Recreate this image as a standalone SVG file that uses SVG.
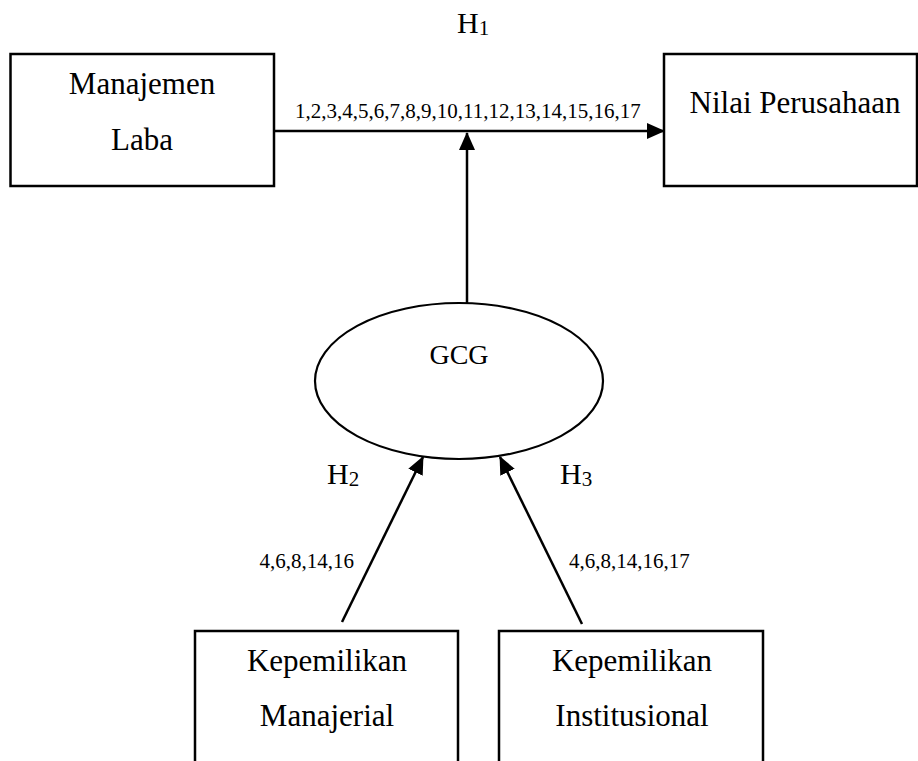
<svg xmlns="http://www.w3.org/2000/svg" width="918" height="761" viewBox="0 0 918 761">
<style>
.box{fill:#fff;stroke:#000;stroke-width:2.5}
.ell{fill:#fff;stroke:#000;stroke-width:2.2}
.con{stroke:#000;stroke-width:2.5;fill:none}
.t{font-family:"Liberation Serif","Times New Roman",serif;fill:#000}
.n{font-size:31px;text-anchor:middle}
.h{font-size:30px}
.s{font-size:21px}
</style>
<defs>
<marker id="arr" markerUnits="userSpaceOnUse" markerWidth="18" markerHeight="16" refX="17" refY="8" orient="auto">
<path d="M0,0 L18,8 L0,16 Z" fill="#000"/>
</marker>
</defs>
<rect width="918" height="761" fill="#fff"/>
<g id="connectors">
<line class="con" x1="274" y1="131" x2="664" y2="131" marker-end="url(#arr)"/>
<line class="con" x1="467" y1="303" x2="467" y2="133" marker-end="url(#arr)"/>
<line class="con" x1="342" y1="622" x2="423" y2="457" marker-end="url(#arr)"/>
<line class="con" x1="582" y1="624" x2="500" y2="457" marker-end="url(#arr)"/>
<text class="t s" x="295" y="118">1,2,3,4,5,6,7,8,9,10,11,12,13,14,15,16,17</text>
<text class="t h" x="457" y="33">H<tspan class="s" dy="2">1</tspan></text>
<text class="t h" x="327" y="484">H<tspan class="s" dy="2">2</tspan></text>
<text class="t h" x="560" y="484">H<tspan class="s" dy="2">3</tspan></text>
<text class="t s" x="354" y="568" text-anchor="end">4,6,8,14,16</text>
<text class="t s" x="569" y="568">4,6,8,14,16,17</text>
</g>
<g id="manajemen-laba">
<rect class="box" x="10.5" y="54" width="263.5" height="132"/>
<text class="t n" x="142" y="94">Manajemen</text>
<text class="t n" x="142" y="150">Laba</text>
</g>
<g id="nilai-perusahaan">
<rect class="box" x="664" y="54" width="253" height="132"/>
<text class="t n" x="795" y="113">Nilai Perusahaan</text>
</g>
<g id="gcg">
<ellipse class="ell" cx="459" cy="381" rx="144" ry="78"/>
<text class="t" x="459" y="364" font-size="28" text-anchor="middle">GCG</text>
</g>
<g id="kepemilikan-manajerial">
<rect class="box" x="195" y="631" width="263" height="140"/>
<text class="t n" x="327" y="671">Kepemilikan</text>
<text class="t n" x="327" y="726">Manajerial</text>
</g>
<g id="kepemilikan-institusional">
<rect class="box" x="499" y="631" width="264" height="140"/>
<text class="t n" x="632" y="671">Kepemilikan</text>
<text class="t n" x="632" y="726">Institusional</text>
</g>
</svg>
